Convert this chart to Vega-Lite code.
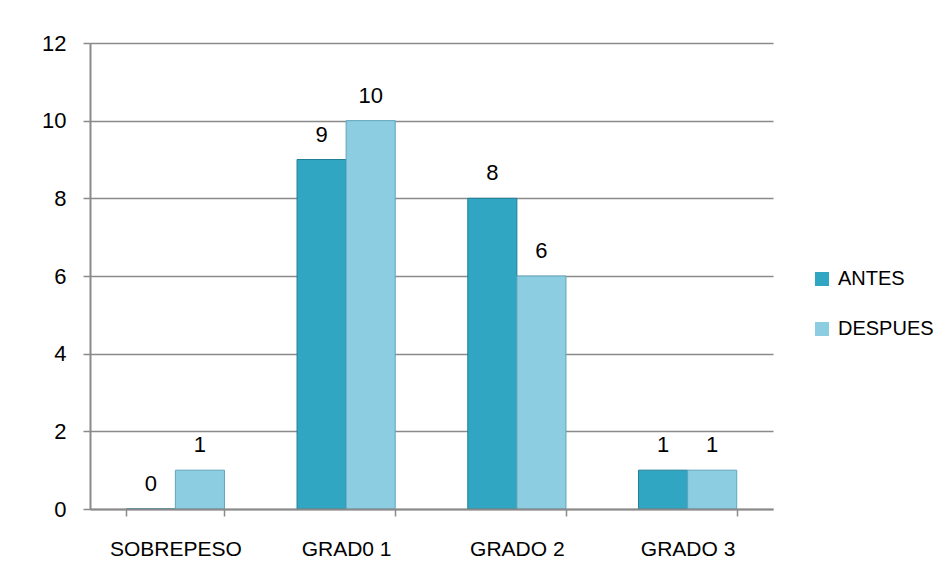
{
  "$schema": "https://vega.github.io/schema/vega-lite/v6.json",
  "width": 683,
  "height": 466,
  "autosize": {"type": "none"},
  "padding": {"left": 90, "top": 43, "right": 173, "bottom": 78},
  "background": "white",
  "config": {
    "view": {"stroke": null},
    "font": "Liberation Sans",
    "axis": {"labelFont": "Liberation Sans", "labelColor": "#000000"},
    "legend": {"labelFont": "Liberation Sans"},
    "text": {"font": "Liberation Sans"}
  },
  "data": {
    "values": [
      {"categoria": "SOBREPESO", "serie": "ANTES", "valor": 0},
      {"categoria": "SOBREPESO", "serie": "DESPUES", "valor": 1},
      {"categoria": "GRAD0 1", "serie": "ANTES", "valor": 9},
      {"categoria": "GRAD0 1", "serie": "DESPUES", "valor": 10},
      {"categoria": "GRADO 2", "serie": "ANTES", "valor": 8},
      {"categoria": "GRADO 2", "serie": "DESPUES", "valor": 6},
      {"categoria": "GRADO 3", "serie": "ANTES", "valor": 1},
      {"categoria": "GRADO 3", "serie": "DESPUES", "valor": 1}
    ]
  },
  "encoding": {
    "x": {
      "field": "categoria",
      "type": "nominal",
      "sort": null,
      "title": null,
      "scale": {"paddingInner": 0.425, "paddingOuter": 0.2125},
      "axis": {
        "labelAngle": 0,
        "labelFontSize": 21,
        "labelPadding": 22,
        "tickBand": "extent",
        "tickSize": 7,
        "tickColor": "#8a8a8a",
        "tickWidth": 1.5,
        "domainColor": "#8a8a8a",
        "domainWidth": 2,
        "grid": false,
        "zindex": 1
      }
    },
    "xOffset": {"field": "serie", "type": "nominal", "sort": ["ANTES", "DESPUES"]},
    "y": {
      "field": "valor",
      "type": "quantitative",
      "title": null,
      "scale": {"domain": [0, 12], "nice": false},
      "axis": {
        "values": [0, 2, 4, 6, 8, 10, 12],
        "labelFontSize": 22,
        "labelPadding": 17,
        "tickSize": 7,
        "tickColor": "#8a8a8a",
        "tickWidth": 1.5,
        "domainColor": "#8a8a8a",
        "domainWidth": 2,
        "gridColor": "#8a8a8a",
        "gridWidth": 1.5
      }
    }
  },
  "layer": [
    {
      "mark": {"type": "bar", "strokeWidth": 1},
      "encoding": {
        "color": {
          "field": "serie",
          "type": "nominal",
          "scale": {"domain": ["ANTES", "DESPUES"], "range": ["#31a6c2", "#8ccde2"]},
          "legend": {
            "title": null,
            "orient": "none",
            "legendX": 722,
            "legendY": 226,
            "symbolType": "square",
            "symbolSize": 196,
            "symbolStrokeWidth": 0,
            "labelFontSize": 20,
            "labelOffset": 6,
            "rowPadding": 30,
            "labelColor": "#000000"
          }
        },
        "stroke": {
          "field": "serie",
          "type": "nominal",
          "scale": {"domain": ["ANTES", "DESPUES"], "range": ["#1f7f97", "#5fa5bb"]},
          "legend": null
        }
      }
    },
    {
      "mark": {"type": "text", "baseline": "alphabetic", "dy": -18, "fontSize": 22, "color": "#000000"},
      "encoding": {
        "text": {"field": "valor", "type": "quantitative"}
      }
    }
  ]
}
